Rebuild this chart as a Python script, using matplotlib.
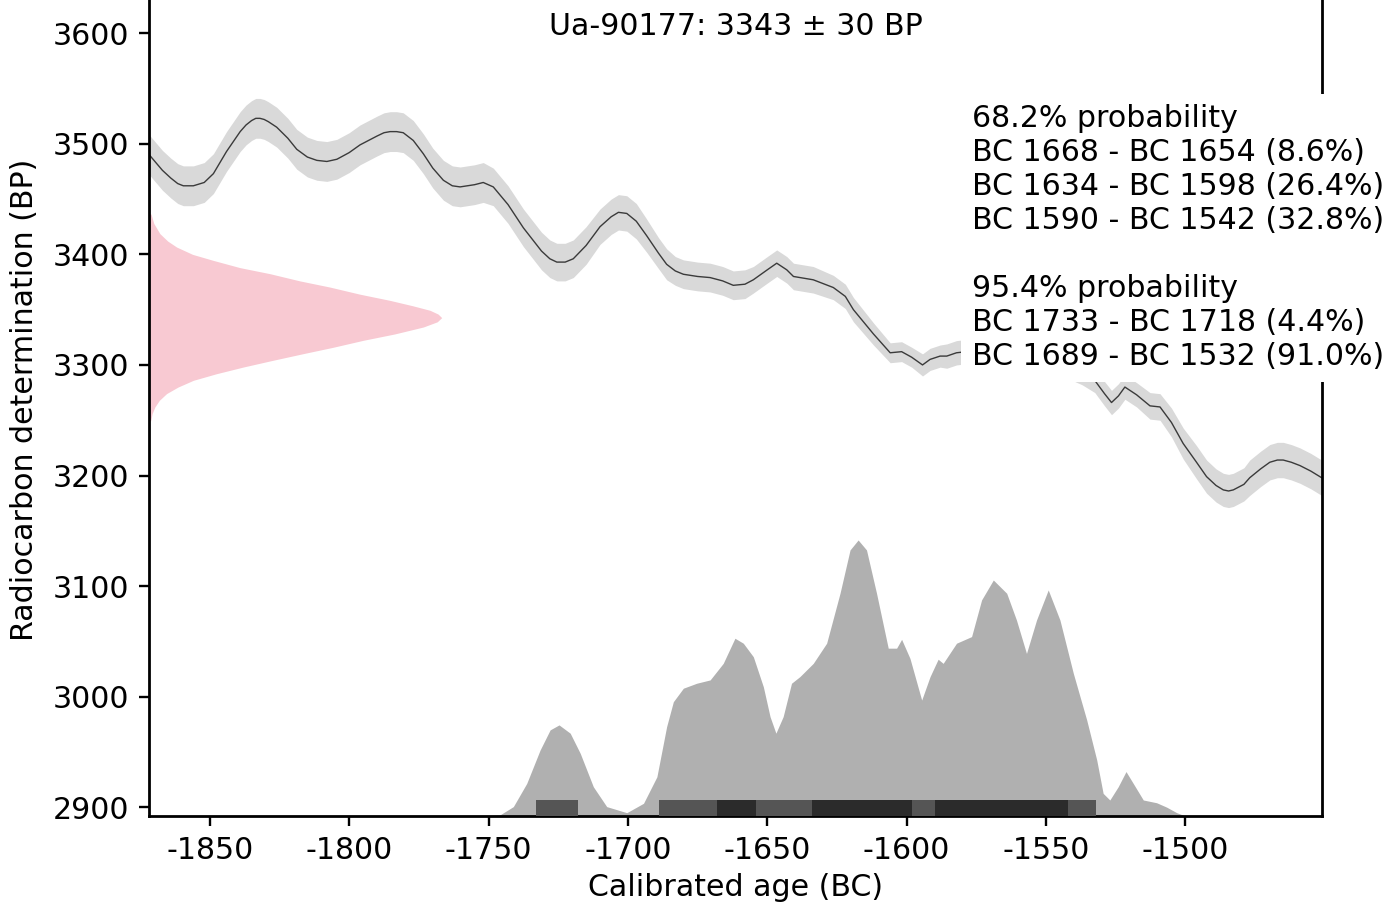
import numpy as np
import matplotlib
matplotlib.use("Agg")
import matplotlib.pyplot as plt

# calibration curve (BC as negative years, BP)
cal_x = [-1871.7, -1870.7, -1867.0, -1864.0, -1861.5, -1859.5, -1857.5, -1855.9, -1852.0,
         -1848.7, -1844.0, -1839.1, -1837.0, -1835.0, -1833.5, -1832.0, -1830.5, -1829.0,
         -1826.0, -1822.0, -1818.8, -1815.0, -1811.6, -1808.0, -1804.4, -1800.0, -1796.1,
         -1790.0, -1787.5, -1785.3, -1783.0, -1780.6, -1777.0, -1773.4, -1770.0, -1766.2,
         -1763.0, -1760.2, -1755.0, -1751.9, -1748.3, -1743.0, -1737.5, -1731.0, -1728.0,
         -1725.5, -1722.5, -1719.6, -1715.0, -1710.0, -1706.0, -1703.4, -1700.4, -1697.0,
         -1693.3, -1689.0, -1686.1, -1683.0, -1680.1, -1675.0, -1670.5, -1666.0, -1662.2,
         -1658.0, -1655.0, -1650.0, -1646.6, -1643.0, -1640.6, -1633.5, -1626.3, -1622.0,
         -1619.1, -1611.9, -1605.9, -1601.8, -1598.2, -1594.3, -1591.6, -1588.0, -1585.6,
         -1582.1, -1575.0, -1565.0, -1555.0, -1545.0, -1537.0, -1532.5, -1529.0, -1526.5,
         -1524.0, -1521.7, -1517.5, -1512.7, -1509.1, -1505.0, -1500.8, -1496.0, -1492.4,
         -1489.0, -1486.4, -1484.5, -1482.8, -1479.0, -1476.9, -1473.0, -1469.7, -1467.0,
         -1464.9, -1462.0, -1458.9, -1455.0, -1451.1]
cal_bp = [3490, 3487, 3476, 3469, 3464, 3462, 3462, 3462, 3465,
          3473, 3493, 3511, 3517, 3521, 3523, 3523, 3522, 3520,
          3515, 3505, 3495, 3488, 3485, 3484, 3486, 3492, 3499,
          3507, 3510, 3511, 3511, 3510, 3503, 3491, 3478, 3467,
          3462, 3461, 3463, 3465, 3461, 3445, 3424, 3403, 3396,
          3393, 3393, 3396, 3408, 3425, 3434, 3438, 3437, 3430,
          3417, 3401, 3391, 3385, 3382, 3380, 3379, 3376, 3372,
          3373, 3377, 3386, 3392, 3386, 3380, 3377, 3370, 3362,
          3350, 3328, 3311, 3312, 3307, 3300, 3305, 3308, 3308,
          3311, 3313, 3318, 3312, 3302, 3293, 3286, 3274, 3266,
          3272, 3280, 3273, 3263, 3262, 3248, 3229, 3212, 3199,
          3191, 3187, 3186, 3187, 3192, 3198, 3206, 3212, 3214,
          3214, 3212, 3209, 3204, 3198]
cal_sd = [18, 18, 18, 18, 18, 18, 18, 18, 18,
          18, 18, 18, 18, 18, 18, 18, 18, 18,
          18, 18, 18, 18, 18, 18, 18, 18, 18,
          18, 18, 18, 18, 18, 18, 18, 18, 18,
          18, 18, 18, 18, 17, 17, 17, 17, 17,
          17, 17, 17, 17, 16, 16, 16, 16, 16,
          15, 14, 14, 13, 13, 13, 13, 13, 13,
          13, 12, 12, 12, 12, 12, 12, 11, 11,
          11, 10, 9, 9, 9, 10, 10, 10, 11,
          11, 11, 11, 11, 11, 11, 11, 11, 11,
          11, 11, 11, 12, 12, 13, 14, 15, 15,
          15, 15, 15, 15, 15, 16, 16, 16, 16,
          16, 16, 16, 16, 16]

# measured date curve (pink), width in years at each BP value
date_bp = [3436.5, 3428.0, 3418.7, 3412.0, 3406.6, 3400.0, 3394.5, 3388.0, 3382.5,
           3376.0, 3370.4, 3364.0, 3358.4, 3353.5, 3349.4, 3346.0, 3342.8, 3339.0,
           3334.3, 3328.0, 3322.3, 3316.0, 3310.2, 3304.0, 3298.1, 3292.0, 3286.1,
           3280.0, 3274.1, 3268.0, 3262.0, 3256.0, 3249.5]
date_w = [0.6, 1.6, 3.8, 6.6, 9.8, 15.5, 23.0, 32.5, 43.3,
          54.0, 64.8, 75.5, 86.3, 94.5, 100.7, 103.6, 104.9, 103.3,
          98.3, 88.0, 76.8, 66.0, 55.2, 44.0, 33.7, 24.0, 15.8,
          10.3, 6.2, 3.6, 2.0, 1.0, 0.5]

# calibrated probability (relative)
prob_x = [-1753.0, -1745.9, -1741.1, -1736.3, -1731.5, -1727.9, -1724.7, -1720.7, -1717.1,
          -1712.4, -1707.6, -1700.4, -1694.4, -1689.6, -1686.1, -1683.7, -1680.1, -1675.3,
          -1670.5, -1665.8, -1661.6, -1658.6, -1655.0, -1651.4, -1649.0, -1646.9, -1644.3,
          -1641.3, -1638.3, -1633.5, -1628.7, -1623.9, -1620.3, -1617.4, -1614.4, -1610.8,
          -1606.6, -1603.6, -1601.8, -1598.8, -1594.6, -1591.6, -1588.7, -1586.9, -1582.1,
          -1576.7, -1573.1, -1568.9, -1564.1, -1560.6, -1557.0, -1553.4, -1549.2, -1545.0,
          -1540.2, -1535.4, -1531.8, -1529.5, -1527.1, -1524.1, -1521.3, -1518.7, -1515.1,
          -1510.3, -1506.7, -1503.1, -1500.0]
prob = [0.0, 0.004, 0.034, 0.118, 0.239, 0.312, 0.330, 0.300, 0.227,
        0.106, 0.034, 0.012, 0.046, 0.142, 0.324, 0.414, 0.463, 0.481,
        0.493, 0.553, 0.644, 0.626, 0.577, 0.468, 0.360, 0.300, 0.360,
        0.481, 0.505, 0.553, 0.626, 0.807, 0.964, 1.0, 0.964, 0.807,
        0.608, 0.608, 0.640, 0.571, 0.420, 0.505, 0.568, 0.553, 0.626,
        0.650, 0.783, 0.855, 0.807, 0.710, 0.589, 0.710, 0.819, 0.710,
        0.517, 0.348, 0.203, 0.082, 0.058, 0.106, 0.161, 0.118, 0.058,
        0.048, 0.032, 0.012, 0.0]

# highest density ranges
hpd68 = [(-1668, -1654), (-1634, -1598), (-1590, -1542)]
hpd95 = [(-1733, -1718), (-1689, -1532)]

title = "Ua-90177: 3343 \u00b1 30 BP"
range_text = ("68.2% probability\n"
              "BC 1668 - BC 1654 (8.6%)\n"
              "BC 1634 - BC 1598 (26.4%)\n"
              "BC 1590 - BC 1542 (32.8%)\n"
              "\n"
              "95.4% probability\n"
              "BC 1733 - BC 1718 (4.4%)\n"
              "BC 1689 - BC 1532 (91.0%)")

plt.rcParams["font.family"] = "DejaVu Sans"
plt.rcParams["axes.unicode_minus"] = False
fs = 21.6

fig = plt.figure(figsize=(13.98, 9.10), dpi=100)
ax = fig.add_axes([0.1068, 0.1033, 0.8386, 0.9143])

xmin, xmax = -1871.7, -1451.1
ymin, ymax = 2892.1, 3644.5
ax.set_xlim(xmin, xmax)
ax.set_ylim(ymin, ymax)

cal_x = np.array(cal_x)
cal_bp = np.array(cal_bp)
cal_sd = np.array(cal_sd)
ax.fill_between(cal_x, cal_bp - cal_sd, cal_bp + cal_sd, color="#d9d9d9", lw=0, zorder=1)
ax.plot(cal_x, cal_bp, color="#3a3a3a", lw=1.0, zorder=2)

# pink measured date along the y axis
date_w = np.array(date_w)
ax.fill_betweenx(date_bp, xmin, xmin + date_w, color="#f8c9d2", lw=0, zorder=1)

# calibrated distribution
prob_scale = 249.6
ax.fill_between(prob_x, ymin, ymin + np.array(prob) * prob_scale, color="#b0b0b0", lw=0, zorder=1)

bar_h = 14.5
for a, b in hpd95:
    ax.fill_between([a, b], ymin, ymin + bar_h, color="#555555", lw=0, zorder=3)
for a, b in hpd68:
    ax.fill_between([a, b], ymin, ymin + bar_h, color="#2b2b2b", lw=0, zorder=4)

ax.text(0.5 * (xmin + xmax), 3606, title, ha="center", va="center", fontsize=fs)

fig.text(972 / 1398, 1 - 104 / 910, range_text, ha="left", va="top", fontsize=fs,
         linespacing=1.22, zorder=10,
         bbox=dict(boxstyle="square,pad=0.35", facecolor="white", edgecolor="none"))

ax.set_xticks([-1850, -1800, -1750, -1700, -1650, -1600, -1550, -1500])
ax.set_yticks([2900, 3000, 3100, 3200, 3300, 3400, 3500, 3600])
ax.tick_params(labelsize=fs, length=7.5, width=1.7, pad=7)
for s in ax.spines.values():
    s.set_linewidth(2.0)
ax.set_xlabel("Calibrated age (BC)", fontsize=fs, labelpad=6)
ax.set_ylabel("Radiocarbon determination (BP)", fontsize=fs, labelpad=10)

fig.savefig("out.png", dpi=100)
